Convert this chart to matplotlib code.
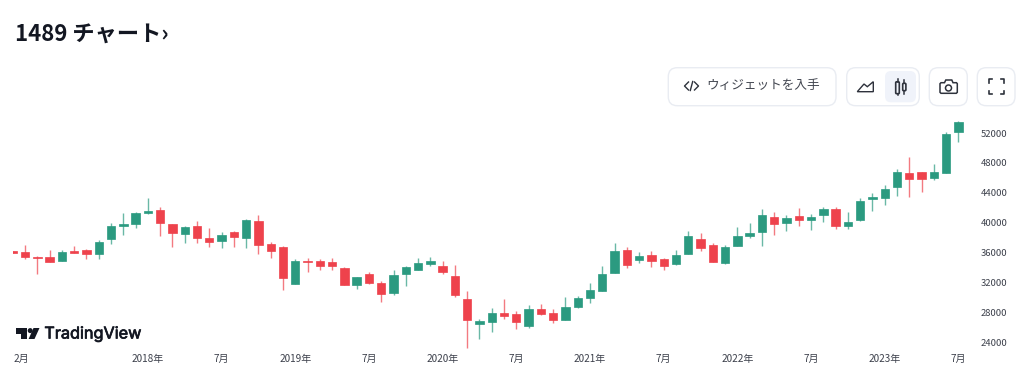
import numpy as np
import matplotlib
matplotlib.use('Agg')
import matplotlib.pyplot as plt
import matplotlib.patheffects as pe
from matplotlib.patches import FancyBboxPatch, Polygon, Circle

plt.rcParams['font.family'] = ['Noto Sans CJK JP', 'DejaVu Sans']

opens = [36167, 36077, 35453, 35408, 34918, 36211, 36390, 35765, 37772, 39512, 39824, 41340, 41697,
         39779, 38530, 39556, 37951, 37594, 38798, 37995, 40181, 37103, 36791, 31840, 34873, 34873,
         34695, 33937, 31617, 33089, 31885, 30547, 33089, 33624, 34472, 34160, 32866, 29789, 26489,
         26711, 27871, 27737, 26176, 28495, 27960, 27024, 28718, 29878, 30859, 33312, 36390, 35007,
         35631, 35096, 34472, 35765, 37772, 37014, 34561, 36836, 38218, 38753, 40716, 40002, 40939,
         40359, 40983, 41786, 39512, 40359, 43124, 43347, 44819, 46603, 46737, 45979, 46648, 52178]
closes = [35899, 35408, 35230, 34695, 36077, 35988, 35765, 37460, 39556, 39779, 41251, 41519, 39913,
          38664, 39467, 37995, 37460, 38397, 38084, 40314, 37059, 36211, 32554, 34873, 34695, 34160,
          34160, 31617, 32688, 31930, 30413, 32955, 34026, 34561, 34918, 33401, 30324, 26934, 26890,
          27960, 27559, 26711, 28495, 27737, 27024, 28718, 29967, 30948, 33089, 36256, 34383, 35542,
          34873, 34249, 35721, 38174, 36657, 34784, 36791, 38174, 38620, 41028, 39779, 40627, 40359,
          40805, 41786, 39601, 40091, 42946, 43392, 44462, 46781, 45889, 45800, 46781, 51910, 53516]
highs = [36167, 37014, 35542, 36390, 36390, 36836, 36479, 37638, 39913, 41296, 41429, 43303, 42098,
         39779, 39556, 40225, 39244, 38798, 38932, 40537, 40983, 37415, 36880, 35096, 35230, 35096,
         35230, 34026, 32688, 33401, 32197, 33714, 34160, 35230, 35453, 34873, 34338, 30859, 27113,
         28629, 29789, 28139, 28941, 29075, 28406, 30101, 30190, 31885, 34160, 37282, 36702, 36077,
         36167, 35230, 36345, 38843, 38620, 37237, 37014, 39467, 40002, 41831, 41385, 40983, 42009,
         41117, 42098, 42054, 41385, 43258, 43927, 45087, 47227, 48833, 46737, 47852, 52089, 53605]
lows = [35899, 35096, 33089, 34695, 34918, 35899, 35096, 35096, 37148, 38307, 39244, 41162, 38218,
        36702, 37237, 37326, 36791, 36613, 36791, 36613, 35765, 35319, 30993, 31751, 33446, 33624,
        33714, 31617, 31171, 31840, 29387, 30324, 31573, 33624, 34160, 33089, 30012, 23188, 24482,
        25418, 27157, 25775, 25864, 27648, 26622, 26934, 28629, 29254, 30859, 33223, 33937, 34561,
        34026, 33624, 34383, 35765, 36167, 34784, 34516, 36836, 37951, 36925, 38397, 38843, 39601,
        39066, 40136, 39155, 39199, 40270, 41519, 42366, 43526, 43436, 44061, 45756, 46648, 50751]

y_ticks = [24000, 28000, 32000, 36000, 40000, 44000, 48000, 52000]
x_ticks = [0.1, 11, 17, 23, 29, 35, 41, 47, 53, 59, 65, 71, 77]
x_labels = ['2月', '2018年', '7月', '2019年', '7月', '2020年', '7月', '2021年', '7月', '2022年', '7月', '2023年', '7月']

GREEN = '#2B9A80'
RED = '#EE424C'
TEXT = '#131722'
AXIS_TEXT = '#3C404B'
BORDER = '#E9ECF2'

W, H = 1024, 385
fig = plt.figure(figsize=(W / 100, H / 100), dpi=100, facecolor='white')

# candles
ax = fig.add_axes([13.3 / W, 33 / H, (975 - 13.3) / W, 234 / H])
ax.set_xlim(0.04, 78.35)
ax.set_ylim(22698, 54007)
x = np.arange(len(opens))
colors = [GREEN if c >= o else RED for o, c in zip(opens, closes)]
ax.vlines(x, lows, highs, colors=colors, linewidth=1.0, alpha=0.7, zorder=2)
bottoms = [min(o, c) for o, c in zip(opens, closes)]
heights = [abs(c - o) for o, c in zip(opens, closes)]
ax.bar(x, heights, bottom=bottoms, width=0.68, color=colors, edgecolor=colors, linewidth=0.5, zorder=3)

ax.yaxis.tick_right()
ax.set_yticks(y_ticks)
ax.set_yticklabels([str(v) for v in y_ticks], fontsize=6.8, color=AXIS_TEXT)
ax.set_xticks(x_ticks)
ax.set_xticklabels(x_labels, fontsize=7.2, color=AXIS_TEXT)
ax.get_xticklabels()[0].set_ha('left')
ax.tick_params(axis='y', length=0, pad=4.2)
ax.tick_params(axis='x', length=0, pad=1.2)
for spine in ax.spines.values():
    spine.set_visible(False)

# page furniture, in pixel coordinates
ui = fig.add_axes([0, 0, 1, 1], zorder=5)
ui.set_xlim(0, W)
ui.set_ylim(H, 0)
ui.axis('off')
ui.patch.set_alpha(0)

ui.text(15, 35.5, '1489 チャート›', fontsize=16, fontweight='bold', color=TEXT, va='center', ha='left')

def button(x0, x1, y0=67.7, y1=105.7, r=9, fc='white', ec=BORDER):
    ui.add_patch(FancyBboxPatch((x0 + r, y0 + r), x1 - x0 - 2 * r, y1 - y0 - 2 * r,
                                boxstyle=f'round,pad={r},rounding_size={r}',
                                fc=fc, ec=ec, lw=1.0))

button(668.3, 836)
button(846.7, 919.3)
button(885, 916, 71, 102.3, r=6, fc='#F0F3FA', ec='none')
button(929.3, 967.3)
button(977.3, 1015)

ICON = '#2E323C'
ui.plot([688.5, 684.5, 688.5], [82, 86, 90], color=ICON, lw=1.0)
ui.plot([694.5, 698.5, 694.5], [82, 86, 90], color=ICON, lw=1.0)
ui.plot([692.7, 690.3], [81.5, 90.5], color=ICON, lw=1.0)
ui.text(706.5, 86, 'ウィジェットを入手', fontsize=9.1, color='#41454F', va='center', ha='left')

# area icon
ui.add_patch(Polygon([(857.3, 91.7), (864, 84), (867.3, 86.7), (873.3, 81.7), (873.3, 91.7)],
                     closed=True, fc='none', ec=ICON, lw=1.0))
# candle icon
ui.add_patch(FancyBboxPatch((896.4, 82.5), 2.2, 10.5, boxstyle='round,pad=0.7,rounding_size=1', fc='none', ec=ICON, lw=1.2))
ui.add_patch(FancyBboxPatch((903.4, 84), 1.8, 6, boxstyle='round,pad=0.7,rounding_size=1', fc='none', ec=ICON, lw=1.2))
ui.plot([897.5, 897.5], [79.3, 81.8], color=ICON, lw=1.1)
ui.plot([897.5, 897.5], [93.7, 95], color=ICON, lw=1.1)
ui.plot([904.3, 904.3], [80, 83.3], color=ICON, lw=1.1)
ui.plot([904.3, 904.3], [90.7, 93.5], color=ICON, lw=1.1)
# camera icon
ui.add_patch(Polygon([(941, 82.7), (944.5, 82.7), (945.8, 80), (951.8, 80), (953, 82.7), (956.5, 82.7),
                      (957.3, 83.7), (957.3, 92.3), (956.3, 93.3), (941, 93.3), (940, 92.3), (940, 83.7)],
                     closed=True, fc='none', ec=ICON, lw=1.1))
ui.add_patch(Circle((948.5, 88), 3.0, fc='none', ec=ICON, lw=1.1))
# fullscreen icon
for xs, ys in [([988.5, 988.5, 992], [82.5, 79.3, 79.3]), ([1000.5, 1004, 1004], [79.3, 79.3, 82.5]),
               ([988.5, 988.5, 992], [91, 94.2, 94.2]), ([1000.5, 1004, 1004], [94.2, 94.2, 91])]:
    ui.plot(xs, ys, color=ICON, lw=1.2, solid_joinstyle='round')

# TradingView logo
ui.add_patch(Polygon([(15.5, 328), (27, 328), (27, 339), (21.2, 339), (21.2, 333.5), (15.5, 333.5)], closed=True, fc=TEXT, ec='none'))
ui.add_patch(Circle((30.2, 330.6), 2.5, fc=TEXT, ec='none'))
ui.add_patch(Polygon([(33.5, 328), (39.5, 328), (34.5, 339), (28.6, 339)], closed=True, fc=TEXT, ec='none'))
ui.text(44.3, 334, 'TradingView', family='Inter', fontsize=11.7, color=TEXT, va='center', ha='left',
        path_effects=[pe.withStroke(linewidth=0.5, foreground=TEXT)])

fig.savefig('out.png', dpi=100, facecolor='white')
